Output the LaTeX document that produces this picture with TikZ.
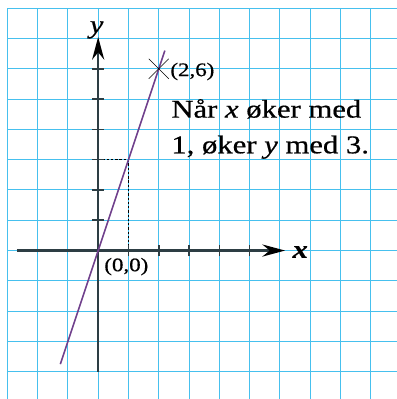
\documentclass[tikz,border=0pt]{standalone}
\usepackage{fontspec}
\setmainfont{Liberation Serif}[FakeStretch=1.2,FakeBold=0.6]
\usepackage{tikz}
\usetikzlibrary{calc,arrows.meta}
\definecolor{rutebla}{RGB}{70,192,238}
\definecolor{aksegra}{RGB}{45,62,68}
\definecolor{linjelilla}{RGB}{112,64,140}

\begin{document}
\begin{tikzpicture}[x=1cm,y=1cm,>={Stealth[length=7.5mm,width=4mm,color=black]},font=\fontsize{18}{22}\selectfont,
    rute/.style={rutebla,line width=1pt},
    akse/.style={aksegra,line width=2pt},
    merke/.style={aksegra,line width=1.5pt}]
    \useasboundingbox (-3.24,-4.9) rectangle (9.86,8.27);
    \foreach \r in {-4,...,8} \draw[rute] (-3,\r) -- (9.86,\r);
    \foreach \c in {-3,...,9} \draw[rute] (\c,-4.9) -- (\c,8);
    \coordinate (O) at (0,0);
    \coordinate (P) at (2,6);
    \coordinate (Q) at (1,3);
    \draw[black,line width=0.9pt,dash pattern=on 2.2pt off 1.8pt] (0,3) -- (Q) -- (1,0);
    \draw[akse,->] (-2.68,0) -- (6.17,0);
    \draw[akse,->] (0,-4) -- (0,7.05);
    \foreach \c in {1,...,5} \draw[merke] (\c,-0.18) -- (\c,0.18);
    \foreach \r in {1,...,6} \draw[merke] (-0.19,\r) -- (0.19,\r);
    \draw[linjelilla,line width=1.5pt] (-1.25,-3.75) -- (2.2,6.6);
    \draw[black,line width=0.6pt] ($(P)+(-0.33,0.33)$) -- ($(P)+(0.33,-0.33)$)
                                  ($(P)+(-0.33,-0.33)$) -- ($(P)+(0.33,0.33)$);
    \node[font=\fontsize{24}{24}\selectfont\bfseries\itshape,anchor=base] (xlabel) at (6.67,-0.24) {x};
    \node[font=\fontsize{24}{24}\selectfont\itshape,anchor=base] (ylabel) at (-0.05,7.18) {y};
    \node (origo) at (0.93,-0.53) {(0,0)};
    \node (punkt) at (3.11,5.91) {(2,6)};
    \node[font=\fontsize{24}{33.5}\selectfont,align=left,anchor=base west,inner sep=0pt] (regel) at (2.41,3.21)
      {Når \textit{x} øker med\\1, øker \textit{y} med 3.};
\end{tikzpicture}
\end{document}
